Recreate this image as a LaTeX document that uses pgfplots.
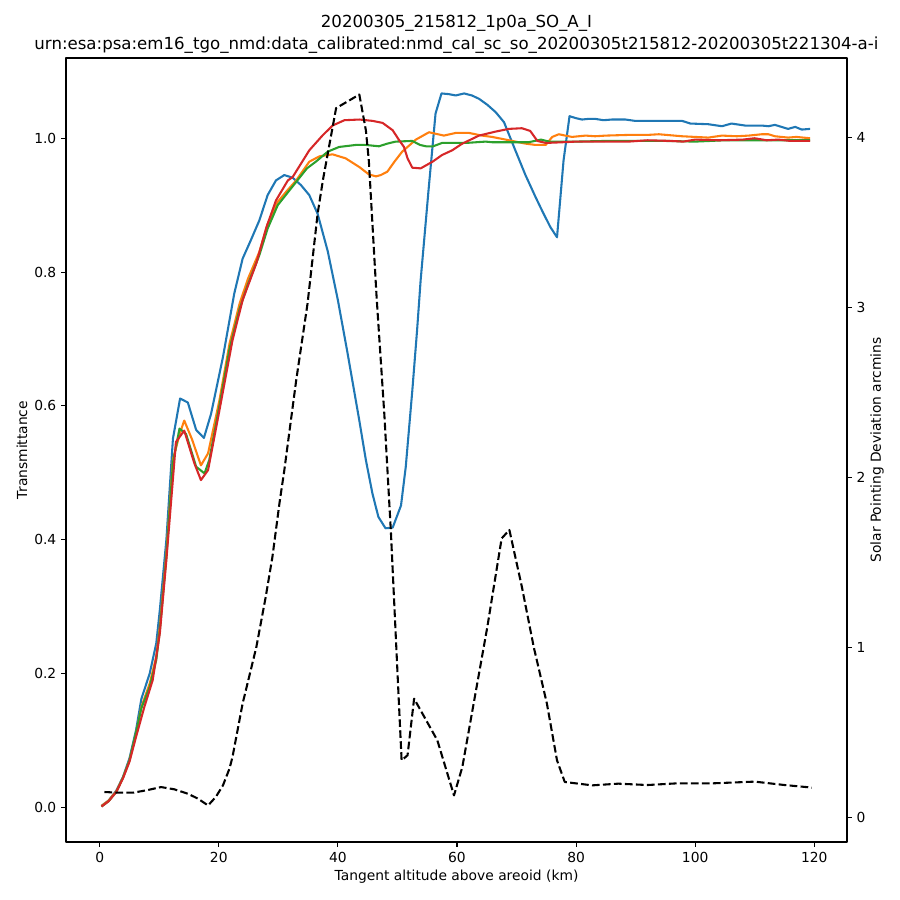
\documentclass[border=0pt]{standalone}
\usepackage{fontspec}
\setmainfont{DejaVu Sans}
\usepackage{pgfplots}
\pgfplotsset{compat=1.18}
\definecolor{c0}{HTML}{1F77B4}
\definecolor{c1}{HTML}{FF7F0E}
\definecolor{c2}{HTML}{2CA02C}
\definecolor{c3}{HTML}{D62728}
\begin{document}
\fontsize{10}{12}\selectfont
\begin{tikzpicture}
\useasboundingbox (-0.66in,-0.58in) rectangle (8.34in,8.42in);
\pgfplotsset{
  common/.style={
    at={(0,0)}, anchor=south west, scale only axis,
    width=7.81in, height=7.84in,
    xmin=-5.66, xmax=125.5,
    /pgf/number format/assume math mode=true,
    tick label style={font=\fontsize{10}{12}\selectfont},
    label style={font=\fontsize{10}{12}\selectfont},
    tick align=outside, major tick length=3.5pt,
    every tick/.style={black, line width=0.8pt},
    axis line style={line width=0.8pt},
    line join=round,
  }
}
\begin{axis}[common,
  ymin=-0.052, ymax=1.120,
  xtick={0,20,...,120}, ytick={0,0.2,0.4,0.6,0.8,1.0},
  xtick pos=bottom, ytick pos=left,
  yticklabel style={/pgf/number format/.cd, fixed, fixed zerofill, precision=1},
  xlabel={Tangent altitude above areoid (km)},
  ylabel={Transmittance},
  xlabel style={at={(axis description cs:0.5,-0.0446)}, anchor=center},
  ylabel style={at={(axis description cs:-0.0563,0.5)}, anchor=center},
  title={20200305\_215812\_1p0a\_SO\_A\_I\\urn:esa:psa:em16\_tgo\_nmd:data\_calibrated:nmd\_cal\_sc\_so\_20200305t215812-20200305t221304-a-i},
  title style={align=center, at={(axis description cs:0.5,1)}, anchor=south, inner sep=0pt, yshift=-3pt, font=\fontsize{12}{15.8}\selectfont},
]
\addplot[c0, line width=1.5pt] coordinates {
(0.3,0.002)(1.5,0.010)(2.8,0.025)(3.9,0.045)(5.0,0.073)(6.1,0.115)(7.0,0.162)(8.4,0.200)(9.5,0.245)(10.1,0.295)(11.2,0.400)(12.3,0.551)(13.5,0.611)(14.8,0.605)(16.2,0.564)(17.5,0.552)(18.7,0.588)(20.7,0.673)(22.6,0.768)(24.0,0.820)(25.4,0.848)(26.8,0.877)(28.2,0.915)(29.6,0.937)(31.0,0.945)(32.4,0.941)(33.8,0.930)(35.2,0.915)(36.6,0.887)(38.3,0.831)(40.0,0.758)(41.6,0.680)(43.6,0.578)(44.7,0.519)(45.8,0.469)(46.8,0.434)(48.0,0.417)(49.2,0.418)(50.6,0.451)(51.4,0.509)(52.5,0.623)(53.3,0.713)(53.9,0.788)(55.2,0.920)(56.4,1.037)(57.4,1.067)(58.6,1.066)(59.8,1.064)(61.2,1.067)(62.5,1.064)(63.7,1.059)(65.1,1.050)(66.5,1.039)(67.9,1.024)(69.8,0.982)(71.5,0.945)(73.2,0.912)(74.5,0.888)(75.7,0.867)(76.8,0.852)(77.9,0.967)(78.9,1.033)(80.0,1.030)(81.0,1.028)(82.1,1.029)(83.2,1.029)(84.6,1.027)(86.0,1.028)(88.3,1.028)(89.9,1.026)(92.0,1.026)(95.0,1.026)(97.8,1.026)(99.2,1.022)(102.2,1.021)(104.5,1.018)(106.1,1.022)(108.4,1.019)(111.2,1.019)(112.3,1.018)(113.4,1.020)(115.6,1.014)(116.8,1.017)(117.9,1.013)(119.3,1.014)
};
\addplot[c1, line width=1.5pt] coordinates {
(0.3,0.002)(1.5,0.010)(2.8,0.024)(3.9,0.044)(5.0,0.070)(6.1,0.110)(7.0,0.150)(8.4,0.185)(9.5,0.225)(10.1,0.270)(11.2,0.380)(12.3,0.520)(13.5,0.560)(14.2,0.578)(15.5,0.550)(17.0,0.511)(18.2,0.529)(20.1,0.608)(21.8,0.693)(23.5,0.753)(24.9,0.790)(26.8,0.830)(28.2,0.872)(29.9,0.905)(31.5,0.922)(33.0,0.937)(35.2,0.965)(36.9,0.973)(39.1,0.976)(41.3,0.970)(43.6,0.957)(45.2,0.946)(46.4,0.943)(47.2,0.945)(48.3,0.950)(49.5,0.965)(50.8,0.980)(53.1,0.998)(55.3,1.009)(57.8,1.004)(59.8,1.008)(62.0,1.008)(64.2,1.004)(65.9,1.002)(69.3,0.996)(71.5,0.992)(73.2,0.990)(74.9,0.990)(76.0,1.002)(77.1,1.006)(79.3,1.002)(81.6,1.004)(83.2,1.003)(85.0,1.004)(88.8,1.005)(92.0,1.005)(93.9,1.006)(97.8,1.003)(100.0,1.002)(102.2,1.001)(104.5,1.004)(107.0,1.003)(109.0,1.004)(111.2,1.006)(112.3,1.006)(113.4,1.003)(115.6,1.001)(117.0,1.002)(119.3,1.000)
};
\addplot[c2, line width=1.5pt] coordinates {
(0.3,0.001)(1.5,0.009)(2.8,0.023)(3.9,0.044)(5.0,0.070)(6.1,0.112)(7.0,0.148)(8.4,0.180)(9.5,0.220)(10.1,0.265)(11.2,0.375)(12.3,0.515)(13.4,0.566)(14.5,0.558)(16.2,0.509)(17.6,0.499)(18.4,0.519)(20.1,0.600)(21.8,0.685)(23.5,0.745)(24.9,0.782)(26.8,0.825)(28.2,0.865)(29.9,0.900)(31.5,0.918)(33.2,0.937)(34.8,0.955)(36.3,0.965)(38.3,0.980)(40.2,0.987)(43.0,0.990)(44.7,0.990)(46.9,0.988)(48.3,0.992)(49.7,0.995)(52.5,0.996)(53.8,0.990)(54.8,0.988)(56.0,0.988)(57.5,0.993)(61.5,0.993)(64.8,0.995)(66.0,0.994)(68.0,0.994)(70.0,0.994)(72.0,0.994)(74.1,0.998)(75.5,0.995)(78.0,0.995)(80.0,0.995)(85.0,0.996)(90.0,0.996)(95.0,0.996)(100.0,0.995)(105.0,0.997)(110.0,0.997)(115.0,0.997)(119.3,0.997)
};
\addplot[c3, line width=1.5pt] coordinates {
(0.3,0.001)(1.5,0.009)(2.8,0.023)(3.9,0.043)(5.0,0.068)(6.1,0.105)(7.5,0.150)(8.9,0.190)(10.1,0.260)(11.2,0.370)(12.8,0.546)(14.2,0.563)(15.9,0.514)(17.0,0.489)(18.2,0.504)(20.1,0.593)(22.3,0.698)(24.0,0.758)(26.3,0.813)(28.0,0.867)(29.6,0.907)(31.6,0.937)(32.4,0.942)(33.8,0.962)(35.2,0.982)(37.4,1.004)(39.1,1.019)(41.1,1.027)(43.6,1.028)(45.8,1.026)(47.5,1.023)(49.2,1.012)(50.3,0.997)(51.1,0.987)(51.7,0.970)(52.5,0.956)(53.9,0.955)(55.9,0.965)(57.5,0.975)(59.2,0.982)(60.9,0.992)(62.3,0.998)(63.7,1.004)(66.5,1.010)(68.7,1.014)(70.9,1.015)(72.3,1.011)(73.5,0.996)(74.9,0.993)(77.6,0.994)(80.0,0.995)(85.0,0.995)(88.8,0.995)(92.0,0.997)(96.0,0.996)(98.0,0.995)(100.0,0.998)(104.0,0.997)(108.0,0.998)(110.0,1.000)(112.0,0.997)(114.0,0.998)(116.0,0.996)(119.3,0.996)
};
\end{axis}
\begin{axis}[common,
  ymin=-0.145, ymax=4.465,
  axis x line=none, axis y line*=right,
  ytick={0,1,2,3,4},
  ylabel={Solar Pointing Deviation arcmins},
  ylabel style={at={(axis description cs:1.0384,0.5)}, anchor=center},
]
\addplot[black, line width=1.5pt, dash pattern=on 5.55pt off 2.4pt] coordinates {
(0.8,0.149)(3.0,0.145)(5.6,0.145)(8.0,0.160)(10.3,0.178)(12.5,0.165)(14.8,0.139)(16.5,0.110)(18.2,0.070)(19.5,0.120)(20.7,0.188)(21.8,0.287)(22.3,0.355)(24.0,0.669)(26.3,1.000)(27.9,1.300)(29.0,1.530)(30.2,1.850)(31.0,2.040)(33.0,2.570)(34.9,3.020)(36.6,3.550)(37.5,3.750)(39.7,4.170)(43.6,4.250)(44.7,4.040)(45.2,3.860)(46.5,3.060)(47.8,2.370)(48.9,1.680)(50.7,0.335)(51.7,0.365)(52.8,0.698)(56.7,0.453)(59.5,0.129)(60.9,0.296)(63.1,0.728)(65.1,1.120)(67.5,1.640)(68.8,1.690)(70.9,1.355)(72.9,1.000)(75.1,0.669)(76.8,0.335)(78.1,0.208)(82.7,0.188)(87.1,0.198)(92.0,0.190)(97.0,0.200)(103.0,0.200)(110.0,0.210)(115.0,0.190)(119.6,0.175)
};
\end{axis}
\end{tikzpicture}
\end{document}
